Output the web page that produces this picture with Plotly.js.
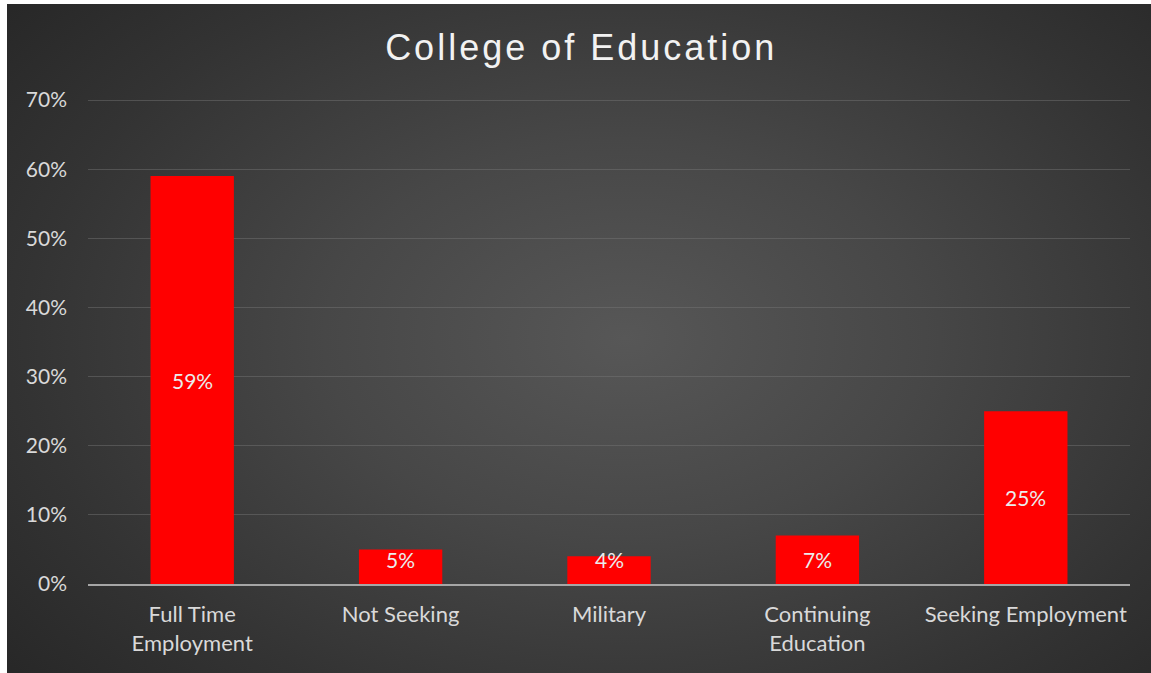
<!DOCTYPE html>
<html>
<head>
<meta charset="utf-8">
<script src="https://cdn.plot.ly/plotly-3.0.1.min.js"></script>
<style>
html,body{margin:0;padding:0;background:#ffffff;}
#wrap{position:relative;width:1151px;height:673px;overflow:hidden;background:#ffffff;}
#bg{position:absolute;left:7px;top:4px;width:1144px;height:669px;
 background:radial-gradient(ellipse 75% 85% at 54% 50%, #575757 0%, #474747 35%, #333333 70%, #242424 100%);}
#chart{position:absolute;left:0;top:0;width:1151px;height:673px;}
#chart .gtitle{letter-spacing:3px;}
</style>
</head>
<body>
<div id="wrap"><div id="bg"></div><div id="chart"></div></div>
<script>
const categories = ["Full Time<br>Employment", "Not Seeking", "Military", "Continuing<br>Education", "Seeking Employment"];
const values = [0.59, 0.05, 0.04, 0.07, 0.25];
const labels = ["59%", "5%", "4%", "7%", "25%"];
const yTicks = [0, 0.1, 0.2, 0.3, 0.4, 0.5, 0.6, 0.7];
const yTickText = ["0%", "10%", "20%", "30%", "40%", "50%", "60%", "70%"];

const font = "Lato, 'Open Sans', sans-serif";
const trace = {
  type: "bar",
  x: categories,
  y: values,
  textposition: "none",
  marker: {color: "#ff0000", line: {width: 0}},
  width: 0.4,
  hoverinfo: "none"
};
// data labels: centred on the bar, but lifted for very short bars (as the original does)
const annotations = categories.map((c, i) => ({
  x: c, y: Math.max(values[i] / 2, 0.035), xref: "x", yref: "y",
  text: labels[i], showarrow: false,
  font: {family: font, size: 21, color: "#ececec"}
}));
const layout = {
  width: 1151, height: 673,
  margin: {l: 88, r: 21, t: 98, b: 89},
  paper_bgcolor: "rgba(0,0,0,0)",
  plot_bgcolor: "rgba(0,0,0,0)",
  showlegend: false,
  annotations: annotations,
  title: {text: "College of Education", x: 0.505, xanchor: "center", y: 0.93, yanchor: "middle",
    font: {family: "'Liberation Sans', Arial, sans-serif", size: 36, color: "#f2f2f2"}},
  xaxis: {
    type: "category",
    showgrid: false, zeroline: false, showline: true, linecolor: "#a6a6a6", linewidth: 2,
    ticks: "", ticklen: 0, ticklabelstandoff: 10,
    tickfont: {family: font, size: 22, color: "#d9d9d9"}
  },
  yaxis: {
    range: [0, 0.703],
    tickvals: yTicks, ticktext: yTickText,
    showgrid: true, gridcolor: "rgba(120,120,120,0.45)", gridwidth: 1,
    zeroline: false, showline: false,
    ticks: "", ticklabelstandoff: 20,
    tickfont: {family: font, size: 21, color: "#d9d9d9"}
  }
};
Plotly.newPlot("chart", [trace], layout, {displayModeBar: false, staticPlot: true});
</script>
</body>
</html>
